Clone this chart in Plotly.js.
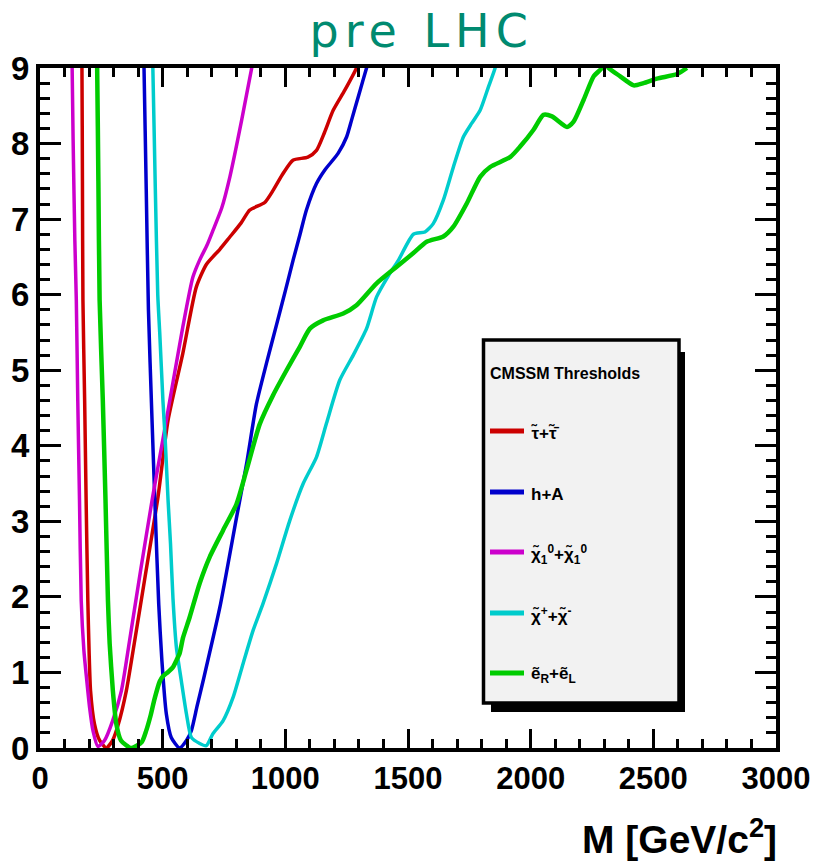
<!DOCTYPE html>
<html><head><meta charset="utf-8">
<script src="https://cdn.plot.ly/plotly-3.0.1.min.js"></script>
<style>body{margin:0;background:#fff} .gtitle{letter-spacing:6px}</style>
</head><body><div id="chart" style="width:814px;height:863px"></div>
<script>
// ---- data (mass in GeV/c^2, chi^2 values) ----
const stauM = [169,171,173,175,182,188,195,200,206,222,243,270,296,318,352,386,430,480,522,582,637,678,733,773,820,855,916,950,990,1031,1092,1127,1160,1195,1243,1290,1300];
const stauV = [9.3,9,7.5,5.93,4.6,3.28,1.95,1.29,0.76,0.32,0.1,0,0.1,0.3,0.76,1.42,2.3,3.3,4.34,5.22,6.1,6.4,6.6,6.76,6.95,7.12,7.22,7.38,7.6,7.78,7.82,7.91,8.15,8.44,8.71,9,9.1];

const hAM = [422,424,433,442,456,470,484,497,515,535,569,597,617,640,665,733,801,842,882,923,964,1000,1032,1060,1086,1127,1161,1215,1250,1270,1300,1331,1340];
const hAV = [9.3,9,7.4,5.8,4.4,3.1,1.9,1.15,0.45,0.14,0,0.1,0.23,0.55,0.89,1.86,3.05,3.76,4.55,5.09,5.6,6.05,6.46,6.8,7.12,7.47,7.65,7.87,8.09,8.31,8.65,9,9.1];

const neuM = [129,131,135,142,148,154,161,168,179,188,202,216,236,263,296,332,365,410,459,515,582,623,651,680,705,741,774,822,863,870];
const neuV = [9.3,9,8.05,6.72,5.93,4.6,3.28,1.95,1.29,0.98,0.54,0.23,0.02,0.1,0.36,0.76,1.42,2.35,3.32,4.34,5.57,6.23,6.46,6.65,6.85,7.15,7.56,8.31,9,9.1];

const charM = [457,460,470,480,488,501,510,522,532,542,556,576,597,617,651,678,705,746,787,828,869,909,964,1018,1073,1127,1168,1222,1277,1331,1372,1420,1460,1522,1569,1603,1644,1685,1726,1760,1794,1828,1855,1860];
const charV = [9.3,9,7.4,6.0,5.5,4.6,4.1,3.28,2.7,1.98,1.33,0.89,0.45,0.14,0.06,0.03,0.19,0.36,0.67,1.12,1.56,1.91,2.44,3.01,3.5,3.85,4.3,4.87,5.2,5.55,5.97,6.25,6.45,6.8,6.83,6.94,7.25,7.69,8.09,8.27,8.44,8.75,9,9.1];

const selM = [231,233,238,243,256,267,277,284,297,311,330,372,415,433,450,467,488,501,520,542,556,569,583,610,651,692,746,801,842,896,950,1005,1059,1100,1154,1236,1290,1372,1454,1522,1576,1644,1685,1740,1794,1835,1916,1957,2011,2052,2087,2148,2175,2216,2257,2291,2305,2318,2365,2420,2460,2515,2597,2637];
const selV = [9.3,9,7.5,5.93,4.6,3.28,1.95,1.38,0.76,0.32,0.1,0,0.08,0.23,0.42,0.65,0.88,0.95,1.0,1.07,1.16,1.25,1.46,1.73,2.18,2.53,2.88,3.23,3.68,4.29,4.67,5.0,5.31,5.55,5.66,5.75,5.86,6.15,6.37,6.55,6.7,6.77,6.9,7.21,7.56,7.69,7.82,7.96,8.18,8.38,8.36,8.22,8.29,8.58,8.89,9.0,9.08,9.0,8.89,8.77,8.8,8.86,8.92,9.0];

const xTicks = [0,500,1000,1500,2000,2500,3000];
const xTickText = ['0','500','1000','1500','2000','2500','3000'];
const yTicks = [0,1,2,3,4,5,6,7,8,9];
const yTickText = ['0','1','2','3','4','5','6','7','8','9'];

const seriesNames = ['τ̃+τ̃̄', 'h+A', 'χ̃<sub>1</sub><sup>0</sup>+χ̃<sub>1</sub><sup>0</sup>', 'χ̃<sup>+</sup>+χ̃<sup>-</sup>', 'ẽ<sub>R</sub>+ẽ<sub>L</sub>'];
const seriesColors = ['#cc0000', '#0000cc', '#cc00cc', '#00cccc', '#00cc00'];
const legendTitle = 'CMSSM Thresholds';

// ---- build ----
const FONT = '"Liberation Sans", Arial, Helvetica, sans-serif';
const xs = [stauM, hAM, neuM, charM, selM];
const ys = [stauV, hAV, neuV, charV, selV];
const widths = [3.5, 3.5, 3.5, 3.5, 4.5];

const traces = xs.map((x, i) => ({
  x: x, y: ys[i], type: 'scatter', mode: 'lines',
  line: {color: seriesColors[i], width: widths[i], shape: 'spline', smoothing: 0.6},
  name: seriesNames[i], showlegend: false, hoverinfo: 'skip'
}));

// legend drawn as shapes + annotations (paper coords from pixel)
const L = 40, R = 776, T = 68, B = 748;
const px = v => (v - L) / (R - L);
const py = v => (B - v) / (B - T);

const shapes = [
  {type: 'rect', xref: 'paper', yref: 'paper', x0: px(491), x1: px(685), y0: py(712), y1: py(352), fillcolor: '#000', line: {width: 0}, layer: 'above'},
  {type: 'rect', xref: 'paper', yref: 'paper', x0: px(483.5), x1: px(679), y0: py(703), y1: py(340), fillcolor: '#f2f2f2', line: {color: '#000', width: 3.5}, layer: 'above'}
];
const entryY = [431, 492, 552, 613, 673];
const annotations = [
  {xref: 'paper', yref: 'paper', x: px(488), y: py(373), xanchor: 'left', yanchor: 'middle', text: legendTitle, showarrow: false,
   font: {family: FONT, size: 16, color: '#000', weight: 'bold'}},
  {xref: 'paper', yref: 'paper', x: px(779), y: py(836), xanchor: 'right', yanchor: 'middle', text: 'M [GeV/c<sup>2</sup>]', showarrow: false,
   font: {family: FONT, size: 39, color: '#000', weight: 'bold'}}
];
entryY.forEach((yy, i) => {
  shapes.push({type: 'line', xref: 'paper', yref: 'paper', x0: px(490), x1: px(524), y0: py(yy), y1: py(yy),
    line: {color: seriesColors[i], width: 5}, layer: 'above'});
  annotations.push({xref: 'paper', yref: 'paper', x: px(529), y: py(yy + 2), xanchor: 'left', yanchor: 'middle',
    text: seriesNames[i], showarrow: false, font: {family: FONT, size: 17, color: '#000', weight: 'bold'}});
});

const axisCommon = {
  showline: true, linecolor: '#000', linewidth: 4, mirror: 'ticks', ticks: 'inside',
  tickcolor: '#000', tickwidth: 3, showgrid: false, zeroline: false, fixedrange: true
};

const layout = {
  width: 814, height: 863,
  margin: {l: L, r: 814 - R, t: T, b: 863 - B, pad: 0},
  paper_bgcolor: '#fff', plot_bgcolor: '#fff',
  title: {text: 'pre LHC', x: 0.518, xanchor: 'center', y: 1 - 31 / 863, yanchor: 'middle',
    font: {family: '"DejaVu Sans", Verdana, sans-serif', size: 46, color: '#008a70'}},
  xaxis: Object.assign({}, axisCommon, {
    range: [0, 3000], tickmode: 'array', tickvals: xTicks, ticktext: xTickText, ticklen: 19,
    tickfont: {family: FONT, size: 31, color: '#000', weight: 'bold'},
    ticklabeloverflow: 'allow',
    minor: {dtick: 100, ticklen: 9, tickwidth: 3, tickcolor: '#000', ticks: 'inside', showgrid: false}
  }),
  yaxis: Object.assign({}, axisCommon, {
    range: [0, 9], tickmode: 'array', tickvals: yTicks, ticktext: yTickText, ticklen: 21,
    tickfont: {family: FONT, size: 33, color: '#000', weight: 'bold'},
    minor: {dtick: 0.2, ticklen: 10, tickwidth: 3, tickcolor: '#000', ticks: 'inside', showgrid: false}
  }),
  shapes: shapes, annotations: annotations, showlegend: false
};

Plotly.newPlot('chart', traces, layout, {staticPlot: true, displayModeBar: false});
</script></body></html>
